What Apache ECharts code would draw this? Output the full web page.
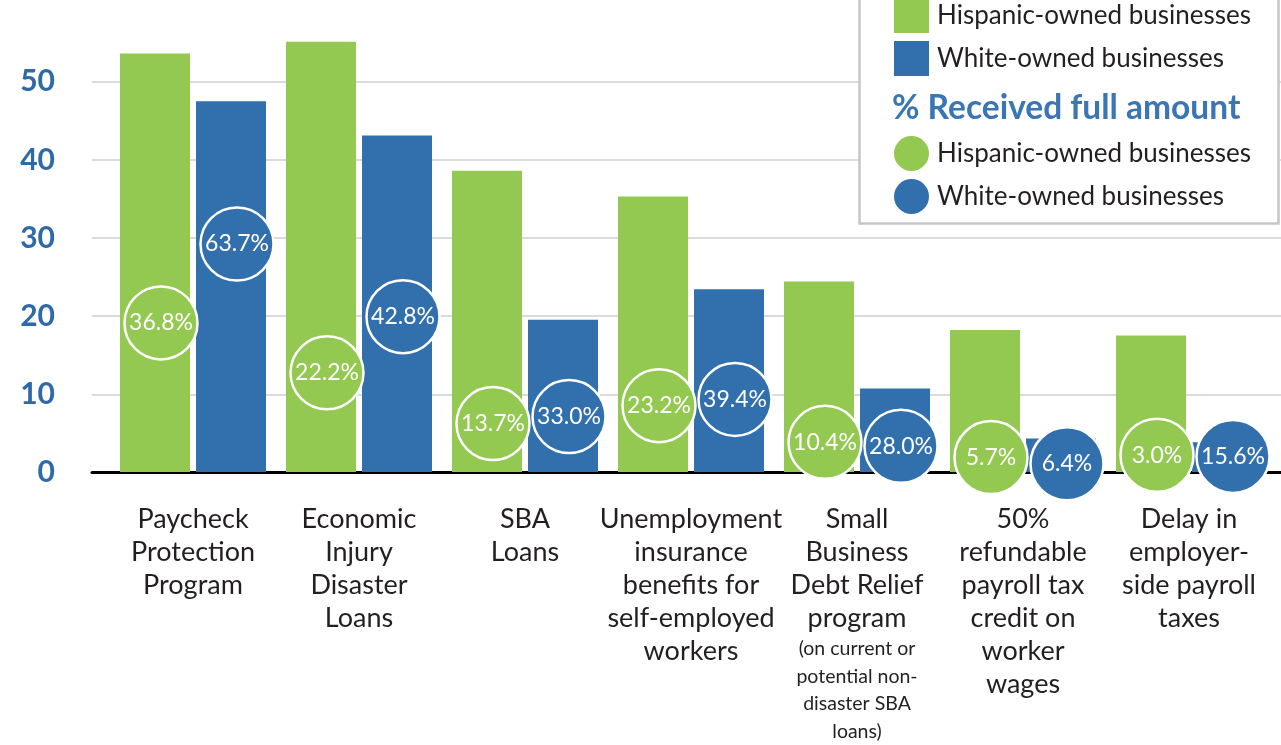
<!DOCTYPE html>
<html>
<head>
<meta charset="utf-8">
<script src="https://cdn.jsdelivr.net/npm/echarts@6/dist/echarts.min.js"></script>
<style>
html,body{margin:0;padding:0;background:#fff;}
#chart{width:1281px;height:745px;}
</style>
</head>
<body>
<div id="chart"></div>
<script>
const categories = [
  'Paycheck\nProtection\nProgram',
  'Economic\nInjury\nDisaster\nLoans',
  'SBA\nLoans',
  'Unemployment\ninsurance\nbenefits for\nself-employed\nworkers',
  'Small\nBusiness\nDebt Relief\nprogram\n{s|(on current or\npotential non-\ndisaster SBA\nloans)}',
  '50%\nrefundable\npayroll tax\ncredit on\nworker\nwages',
  'Delay in\nemployer-\nside payroll\ntaxes'
];
const yTicks = [0, 10, 20, 30, 40, 50];
// % applied (bar heights)
const hispanicApplied = [53.6, 55.1, 38.6, 35.3, 24.4, 18.2, 17.5];
const whiteApplied    = [47.5, 43.1, 19.5, 23.4, 10.7, 4.3, 3.8];
// % received full amount (circle labels)
const hispanicFull = [36.8, 22.2, 13.7, 23.2, 10.4, 5.7, 3.0];
const whiteFull    = [63.7, 42.8, 33.0, 39.4, 28.0, 6.4, 15.6];
// circle levels on the value scale
const hispanicCircleLevel = [19.1, 12.7, 6.2, 8.5, 3.8, 1.85, 2.15];
const whiteCircleLevel    = [29.2, 19.9, 7.1, 9.3, 3.3, 1.05, 2.0];

const GREEN = '#93c851';
const BLUE = '#3270ad';
const AXIS_BLUE = '#2f6aa8';
const TEXT = '#231f20';
const FONT = 'Lato';

const HISP = 'Hispanic-owned businesses';
const WHITE = 'White-owned businesses';
const HISP_FULL = 'Hispanic-owned businesses (full)';
const WHITE_FULL = 'White-owned businesses (full)';

const chart = echarts.init(document.getElementById('chart'), null, {renderer: 'canvas'});

const gridTop = 3.6, gridBottom = 272.5;

const option = {
  backgroundColor: '#fff',
  animation: false,
  textStyle: {fontFamily: FONT},
  grid: [
    {left: 92, right: 0, top: gridTop, bottom: gridBottom},
    {left: 110, right: 9, top: gridTop, bottom: gridBottom}
  ],
  xAxis: [
    {
      gridIndex: 0, type: 'value', min: 0, max: 1,
      axisLine: {show: true, lineStyle: {color: '#000', width: 3}},
      axisTick: {show: false}, axisLabel: {show: false}, splitLine: {show: false}
    },
    {
      gridIndex: 1, type: 'category', data: categories,
      axisLine: {show: false}, axisTick: {show: false}, splitLine: {show: false},
      axisLabel: {
        interval: 0, margin: 31, color: TEXT, fontFamily: FONT, fontSize: 27,
        lineHeight: 33, align: 'center', verticalAlign: 'top',
        rich: {s: {fontSize: 19.5, lineHeight: 27.5, color: TEXT, fontFamily: FONT}}
      }
    }
  ],
  yAxis: [
    {
      gridIndex: 0, type: 'value', min: 0, max: 60, interval: 10,
      axisLine: {show: false}, axisTick: {show: false},
      splitLine: {show: true, showMinLine: false, showMaxLine: false, lineStyle: {color: '#cfcfcf', width: 1.5}},
      axisLabel: {
        margin: 37, color: AXIS_BLUE, fontWeight: 'bold', fontSize: 30, fontFamily: FONT,
        formatter: function (v) { return yTicks.indexOf(v) >= 0 ? String(v) : ''; }
      }
    },
    {
      gridIndex: 1, type: 'value', min: 0, max: 60, interval: 10,
      axisLine: {show: false}, axisTick: {show: false}, axisLabel: {show: false}, splitLine: {show: false}
    }
  ],
  legend: [
    {
      z: 10, orient: 'vertical', left: 889, top: -7,
      icon: 'rect', itemWidth: 35, itemHeight: 35, itemGap: 8,
      selectedMode: false,
      data: [HISP, WHITE],
      textStyle: {color: TEXT, fontSize: 26, fontFamily: FONT, padding: [0, 0, 0, 3]}
    },
    {
      z: 10, orient: 'vertical', left: 889, top: 131,
      icon: 'circle', itemWidth: 35, itemHeight: 35, itemGap: 8,
      selectedMode: false,
      itemStyle: {borderWidth: 0},
      data: [HISP_FULL, WHITE_FULL],
      formatter: function (n) { return n.replace(' (full)', ''); },
      textStyle: {color: TEXT, fontSize: 26, fontFamily: FONT, padding: [0, 0, 0, 3]}
    }
  ],
  graphic: [
    {
      type: 'rect', z: 5, silent: true,
      shape: {x: 859.5, y: -10, width: 419, height: 233.5},
      style: {fill: '#fff', stroke: '#c6c6c6', lineWidth: 2.5}
    },
    {
      type: 'text', z: 10, left: 892, top: 91,
      style: {text: '% Received full amount', fill: '#3a75b4', font: 'bold 33.5px Lato'}
    }
  ],
  series: [
    {
      name: HISP, type: 'bar', xAxisIndex: 1, yAxisIndex: 1,
      data: hispanicApplied, barWidth: 70, barGap: '8.6%',
      itemStyle: {color: GREEN}, z: 2
    },
    {
      name: WHITE, type: 'bar', xAxisIndex: 1, yAxisIndex: 1,
      data: whiteApplied, barWidth: 70, barGap: '8.6%',
      itemStyle: {color: BLUE}, z: 2
    },
    {
      name: HISP_FULL, type: 'scatter', xAxisIndex: 1, yAxisIndex: 1,
      data: hispanicCircleLevel, symbol: 'circle', symbolSize: 73, symbolOffset: [-32, 0],
      itemStyle: {color: GREEN, borderColor: '#fff', borderWidth: 2.5, opacity: 1},
      label: {
        show: true, position: 'inside', color: '#fff', fontSize: 23, fontFamily: FONT,
        formatter: function (p) { return hispanicFull[p.dataIndex].toFixed(1) + '%'; }
      },
      z: 4
    },
    {
      name: WHITE_FULL, type: 'scatter', xAxisIndex: 1, yAxisIndex: 1,
      data: whiteCircleLevel, symbol: 'circle', symbolSize: 73, symbolOffset: [44, 0],
      itemStyle: {color: BLUE, borderColor: '#fff', borderWidth: 2.5, opacity: 1},
      label: {
        show: true, position: 'inside', color: '#fff', fontSize: 23, fontFamily: FONT,
        formatter: function (p) { return whiteFull[p.dataIndex].toFixed(1) + '%'; }
      },
      z: 5
    }
  ]
};
chart.setOption(option);
</script>
</body>
</html>
